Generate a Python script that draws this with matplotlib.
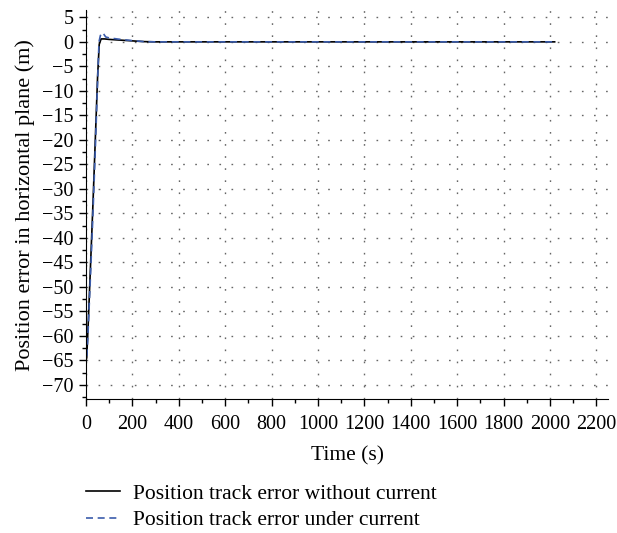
import numpy as np
import matplotlib
import matplotlib.pyplot as plt

matplotlib.rcParams['font.family'] = 'Liberation Serif'
tick_size = 14.5
text_size = 15.5

# time (s) and position error (m)
t_nocur = [0, 3, 10, 20, 30, 40, 50, 57, 65, 80, 100, 150, 200, 250, 300, 2020]
e_nocur = [-65, -64.5, -57, -45, -33, -20, -7, -0.5, 0.6, 0.6, 0.5, 0.35, 0.2, 0.05, 0, 0]

t_cur = [0, 4, 10, 20, 30, 40, 50, 56, 62, 70, 76, 85, 100, 150, 200, 250, 300, 2020]
e_cur = [-64, -64, -58, -47, -35, -22, -8, 0, 1.3, 1.9, 1.6, 1.0, 0.8, 0.5, 0.25, 0.05, 0, 0]

labels = ["Position track error without current", "Position track error under current"]

fig = plt.figure(figsize=(6.17, 5.33), dpi=100)
ax = fig.add_axes([0.1394, 0.2505, 0.846, 0.7307])

ax.plot(t_nocur, e_nocur, color='black', lw=1.2, label=labels[0])
ax.plot(t_cur, e_cur, color='#3b5cab', lw=1.2, ls=(0, (4.2, 2.8)), label=labels[1])

ax.set_xlim(0, 2250)
ax.set_ylim(-73, 6.5)
ax.set_xticks(np.arange(0, 2201, 200))
ax.set_xticks(np.arange(100, 2201, 200), minor=True)
ax.set_yticks(np.arange(-70, 6, 5))
ax.set_yticks(np.arange(-72.5, 6, 5), minor=True)
ax.set_yticklabels([str(v).replace('-', '\u2212') for v in range(-70, 6, 5)])

ax.spines['top'].set_visible(False)
ax.spines['right'].set_visible(False)
ax.tick_params(which='major', length=5, width=1, labelsize=tick_size, pad=4)
ax.tick_params(axis='x', which='major', pad=6)
ax.tick_params(which='minor', length=3, width=1)
ax.grid(True, which='major', color='#666666', lw=1, ls=(0, (1.2, 7.5)))

ax.set_xlabel("Time (s)", fontsize=text_size, labelpad=9)
ax.set_ylabel("Position error in horizontal plane (m)", fontsize=16, labelpad=5)

fig.legend(loc='upper left', bbox_to_anchor=(0.1394, 0.0920), frameon=False,
           borderpad=0, borderaxespad=0,
           fontsize=text_size, handlelength=1.6, handletextpad=0.6, labelspacing=0.28)

plt.savefig("out.png", dpi=100)
